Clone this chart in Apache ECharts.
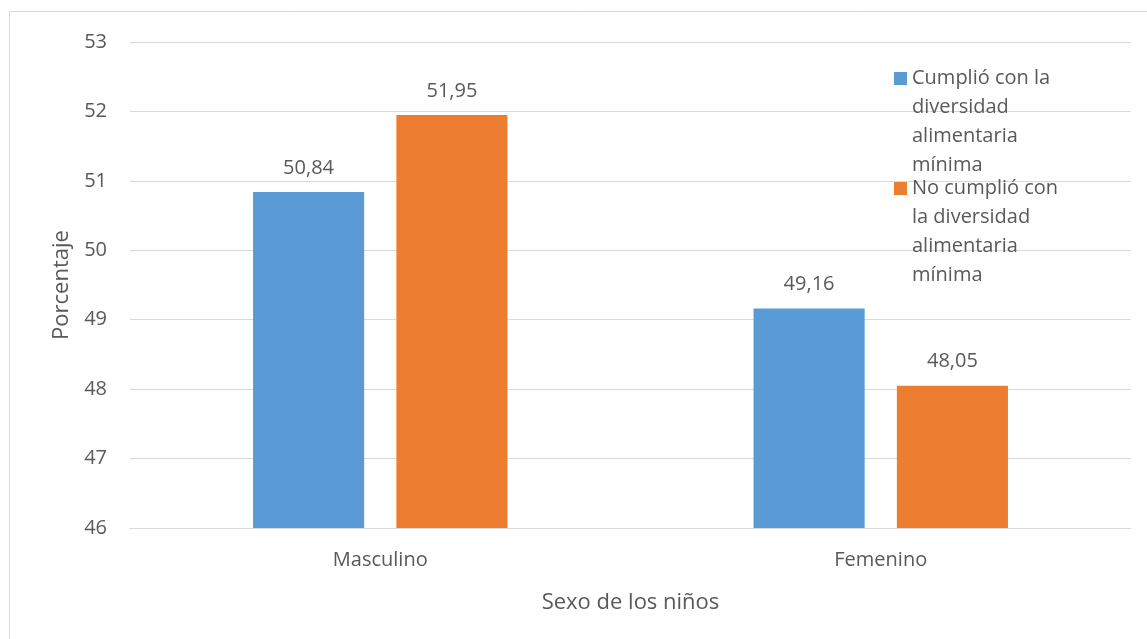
<!DOCTYPE html>
<html lang="es">
<head>
    <meta charset="UTF-8">
    <title>ECharts</title>
    <script src="https://cdn.jsdelivr.net/npm/echarts@6/dist/echarts.min.js"></script>
    <style type="text/css">
        *{margin: 0;padding: 0;border: none}
        html,body{width: 100%;height: 100%;overflow: hidden;background: #fff}
        #main{width: 1147px;height: 639px}
    </style>
</head>
<body>
<div id="main"></div>
<script type="text/javascript">
    var categorias = ['Masculino', 'Femenino'];
    var cumplio = [50.84, 49.16];
    var noCumplio = [51.95, 48.05];
    var serie1 = 'Cumplió con la\ndiversidad\nalimentaria\nmínima';
    var serie2 = 'No cumplió con\nla diversidad\nalimentaria\nmínima';

    var gris = '#595959';
    var fuente = '"Open Sans", sans-serif';
    // cuadrito arriba, punto invisible abajo para alinear con la primera linea
    var icono = 'path://M0,0h0.01v0.01h-0.01z M0,8h13v13h-13z M0,116h0.01v0.01h-0.01z';

    var myChart = echarts.init(document.getElementById('main'));
    var option = {
        animation: false,
        textStyle: {fontFamily: fuente, color: gris},
        graphic: [{
            type: 'rect',
            shape: {x: 9.5, y: 11.5, width: 1300, height: 800},
            style: {fill: 'none', stroke: '#d9d9d9', lineWidth: 1},
            silent: true
        }],
        grid: {left: 130, right: 16, top: 42, bottom: 111},
        legend: {
            orient: 'vertical',
            left: 894,
            top: 64,
            padding: 0,
            itemGap: -6,
            itemWidth: 13,
            itemHeight: 116,
            icon: icono,
            textStyle: {fontFamily: fuente, fontSize: 20, color: gris, lineHeight: 29},
            data: [serie1, serie2]
        },
        xAxis: {
            type: 'category',
            data: categorias,
            name: 'Sexo de los niños',
            nameLocation: 'middle',
            nameGap: 64,
            nameTextStyle: {fontFamily: fuente, fontSize: 22, color: gris},
            axisLine: {lineStyle: {color: '#d9d9d9'}},
            axisTick: {show: false},
            axisLabel: {fontFamily: fuente, fontSize: 20, color: gris, margin: 22}
        },
        yAxis: {
            type: 'value',
            min: 46,
            max: 53,
            interval: 1,
            name: 'Porcentaje',
            nameLocation: 'middle',
            nameGap: 57,
            nameTextStyle: {fontFamily: fuente, fontSize: 22, color: gris},
            axisLine: {show: false},
            axisTick: {show: false},
            axisLabel: {fontFamily: fuente, fontSize: 20, color: gris, margin: 23},
            splitLine: {lineStyle: {color: '#d9d9d9', width: 1}}
        },
        series: [
            {
                name: serie1,
                type: 'bar',
                data: cumplio,
                barWidth: '22.2%',
                barGap: '29%',
                itemStyle: {color: '#5b9bd5'},
                label: {
                    show: true,
                    position: 'top',
                    distance: 14,
                    fontFamily: fuente,
                    fontSize: 20,
                    color: gris,
                    formatter: function (p) { return p.value.toFixed(2).replace('.', ','); }
                }
            },
            {
                name: serie2,
                type: 'bar',
                data: noCumplio,
                barWidth: '22.2%',
                itemStyle: {color: '#ed7d31'},
                label: {
                    show: true,
                    position: 'top',
                    distance: 14,
                    fontFamily: fuente,
                    fontSize: 20,
                    color: gris,
                    formatter: function (p) { return p.value.toFixed(2).replace('.', ','); }
                }
            }
        ]
    };
    myChart.setOption(option);
</script>
</body>
</html>
